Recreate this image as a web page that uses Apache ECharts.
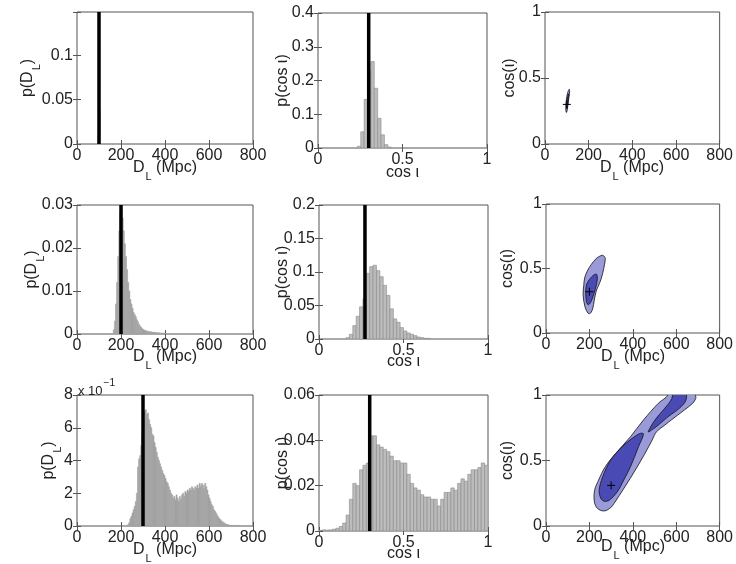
<!DOCTYPE html>
<html><head><meta charset="utf-8">
<script src="https://cdn.jsdelivr.net/npm/echarts@6/dist/echarts.min.js"></script>
<style>html,body{margin:0;padding:0;background:#fff}#c{width:736px;height:564px}</style>
</head><body><div id="c"></div>
<script>
// ---------------- data ----------------
const dlTickLabels = [0, 200, 400, 600, 800];
const cosTickLabels = [0, 0.5, 1];
const pDlTicks1 = [0, 0.05, 0.1];
const pDlTicks2 = [0, 0.01, 0.02, 0.03];
const pDlTicks3 = [0, 2, 4, 6, 8];
const pCosTicks1 = [0, 0.1, 0.2, 0.3, 0.4];
const pCosTicks2 = [0, 0.05, 0.1, 0.15, 0.2];
const pCosTicks3 = [0, 0.02, 0.04, 0.06];

const trueDL = [100, 200, 300];
const trueCos = [0.30, 0.272, 0.30];
const trueMarker = [[100, 0.30], [200, 0.32], [300, 0.31]];

// histograms of D_L (bin start, bin width, heights)
const dl1BinStart = 95, dl1BinWidth = 2;
const dl1Vals = [0.01, 0.06, 0.149, 0.11, 0.04];
const dl2BinStart = 165, dl2BinWidth = 5;
const dl2Vals = [0.001, 0.003, 0.007, 0.012, 0.018, 0.024, 0.028, 0.029, 0.027, 0.024,
  0.021, 0.018, 0.015, 0.012, 0.010, 0.008, 0.007, 0.006, 0.005, 0.0045,
  0.004, 0.0033, 0.0028, 0.0022, 0.0018, 0.0015, 0.0012, 0.001, 0.0009, 0.0008,
  0.0007, 0.0006, 0.0006, 0.0005, 0.0005, 0.0004, 0.0004, 0.0004, 0.0003, 0.0003,
  0.0003, 0.0003, 0.0002, 0.0002, 0.0002, 0.0002, 0.0002, 0.0001, 0.0001, 0.0001];
const dl3BinStart = 225, dl3BinWidth = 5;
const dl3Vals = [0.03, 0.08, 0.2, 0.45, 0.6, 0.8, 1.0, 1.2, 1.5, 2.0,
  3.6, 4.1, 4.3, 4.9, 5.6, 6.3, 7.0, 7.1, 6.8, 6.9,
  6.5, 6.2, 6.0, 5.6, 5.5, 5.1, 4.8, 4.5, 4.2, 4.0,
  3.8, 3.6, 3.4, 3.2, 3.1, 2.9, 2.7, 2.6, 2.4, 2.2,
  2.0, 1.9, 1.7, 1.8, 1.6, 1.9, 1.7, 1.5, 1.8, 1.6,
  1.9, 2.0, 1.8, 2.1, 2.0, 2.2, 2.1, 2.3, 2.2, 2.4,
  2.3, 2.2, 2.4, 2.3, 2.5, 2.3, 2.6, 2.4, 2.6, 2.5,
  2.3, 2.6, 2.4, 2.2, 1.9, 1.7, 1.5, 1.3, 1.2, 1.0,
  0.9, 0.8, 0.65, 0.55, 0.45, 0.38, 0.3, 0.25, 0.2, 0.16,
  0.12, 0.09, 0.07, 0.05, 0.04, 0.03, 0.02, 0.02, 0.015, 0.01, 0.01, 0.01, 0.005];

// histograms of cos(iota)
const cos1BinStart = 0.233, cos1BinWidth = 0.02;
const cos1Vals = [0.005, 0.048, 0.144, 0.23, 0.256, 0.177, 0.088, 0.039, 0.01, 0.003];
const cos2BinStart = 0.16, cos2BinWidth = 0.02;
const cos2Vals = [0.002, 0.007, 0.02, 0.034, 0.048, 0.06, 0.098, 0.108, 0.110, 0.102,
  0.093, 0.080, 0.065, 0.045, 0.030, 0.025, 0.017, 0.012, 0.009, 0.007,
  0.005, 0.003, 0.002, 0.001, 0.001];
const cos3BinStart = 0, cos3BinWidth = 0.02;
const cos3Vals = [0.0003, 0.0005, 0.0004, 0.0005, 0.0008, 0.0012, 0.002, 0.0035, 0.007, 0.014,
  0.021, 0.020, 0.027, 0.029, 0.030, 0.042, 0.042, 0.038, 0.037, 0.036,
  0.035, 0.033, 0.031, 0.031, 0.030, 0.030, 0.025, 0.021, 0.019, 0.018,
  0.016, 0.015, 0.015, 0.014, 0.014, 0.011, 0.014, 0.017, 0.017, 0.019,
  0.018, 0.021, 0.023, 0.022, 0.025, 0.027, 0.027, 0.028, 0.030, 0.029];

// credible-region contours [D_L, cos(iota)]
const contour1Outer = [[97,0.24],[95,0.27],[96,0.31],[100,0.36],[106,0.40],[111,0.415],[113,0.40],[110,0.36],[106,0.31],[102,0.26],[99,0.24]];
const contour1Inner = [[99,0.27],[99,0.30],[102,0.34],[107,0.38],[109,0.37],[106,0.33],[103,0.29],[101,0.27]];
const contour2Outer = [[193,0.155],[180,0.2],[171,0.297],[174,0.37],[178,0.426],[190,0.48],[208,0.53],[230,0.575],[246,0.594],[261,0.602],[272,0.585],[273,0.568],[266,0.50],[254,0.419],[240,0.36],[231,0.323],[222,0.25],[216,0.194],[208,0.16],[201,0.15]];
const contour2Inner = [[193,0.22],[186,0.245],[183,0.32],[186,0.37],[193,0.398],[205,0.425],[216,0.444],[231,0.457],[236,0.44],[236,0.411],[230,0.36],[224,0.32],[216,0.28],[208,0.245],[200,0.225]];
const contour3Outer = [[223,0.184],[238,0.133],[268,0.115],[298,0.140],[313,0.171],[363,0.298],[411,0.426],[456,0.554],[489,0.656],[509,0.719],[547,0.770],[577,0.809],[637,0.885],[675,0.936],[690,0.974],[688,1.0],[682,1.04],[554,1.04],[562,1.0],[517,0.936],[449,0.809],[389,0.681],[321,0.554],[273,0.452],[242,0.349],[224,0.273]];
const contour3InnerA = [[253,0.209],[245,0.273],[261,0.375],[298,0.503],[351,0.605],[396,0.668],[434,0.707],[449,0.702],[426,0.605],[389,0.452],[358,0.35],[328,0.26],[291,0.196],[268,0.189]];
const contour3InnerB = [[471,0.719],[502,0.809],[547,0.898],[580,0.974],[587,1.04],[640,1.04],[645,0.962],[614,0.898],[562,0.834],[517,0.77],[486,0.732]];

const xTitles = ['D{s|L} (Mpc)', 'cos ι', 'D{s|L} (Mpc)'];
const yTitles = ['p(D{s|L})', 'p(cos ι)', 'cos(ι)'];

// ---------------- layout / style ----------------
const FONT = 'Liberation Sans, Arial, Helvetica, sans-serif';
const TXT = '#222', FRAME = '#555';
const OUTER = '#9a9ad9', INNER = '#4a4ab5';
const HIST1 = '#a2a2a2', HIST2 = '#bcbcbc', HIST2_EDGE = '#8a8a8a';

// g: grid [left, top, width, height]; xt/yt: centre of the x / y title text
const panels = [
  {g:[77,12,176,132],  x:[0,800,200,dlTickLabels], y:[0,0.149,0.05,pDlTicks1], xt:[165,168],   yt:[27.5,78]},
  {g:[318,13,169,135], x:[0,1,0.5,cosTickLabels],  y:[0,0.4,0.1,pCosTicks1],   xt:[402.5,173], yt:[283,80.5]},
  {g:[545,12,177,132], x:[0,800,200,dlTickLabels], y:[0,1,0.5,cosTickLabels],   xt:[632,168],   yt:[510,78]},
  {g:[77,205,176,129], x:[0,800,200,dlTickLabels], y:[0,0.03,0.01,pDlTicks2],   xt:[165,357],   yt:[32,269.5]},
  {g:[319,205,169,134],x:[0,1,0.5,cosTickLabels],  y:[0,0.2,0.05,pCosTicks2],   xt:[403.5,362], yt:[283,272]},
  {g:[546,204,176,129],x:[0,800,200,dlTickLabels], y:[0,1,0.5,cosTickLabels],   xt:[633,357],   yt:[508,268.5]},
  {g:[77,395,176,131], x:[0,800,200,dlTickLabels], y:[0,8,2,pDlTicks3],         xt:[165,550],   yt:[48.5,460.5]},
  {g:[319,395,169,136],x:[0,1,0.5,cosTickLabels],  y:[0,0.06,0.02,pCosTicks3],  xt:[403.5,554], yt:[283,463]},
  {g:[546,395,177,131],x:[0,800,200,dlTickLabels], y:[0,1,0.5,cosTickLabels],   xt:[633,547],   yt:[508,460.5]}
];

const fmt = v => String(Math.round(v * 1e6) / 1e6);
const labelFn = ticks => v => ticks.some(t => Math.abs(t - v) < 1e-9) ? fmt(v) : '';
const subRich = {s: {fontFamily: FONT, fontSize: 11, fill: TXT, padding: [18, 0, 0, 1]}};

const grids = [], xAxes = [], yAxes = [], graphics = [];
panels.forEach((p, i) => {
  grids.push({left: p.g[0], top: p.g[1], width: p.g[2], height: p.g[3], show: true,
    borderColor: FRAME, borderWidth: 1, backgroundColor: '#fff', containLabel: false});
  const tick = {show: true, inside: true, length: 4, lineStyle: {color: FRAME, width: 1}};
  xAxes.push({type: 'value', gridIndex: i, position: 'bottom', min: p.x[0], max: p.x[1], interval: p.x[2],
    axisLine: {show: false}, axisTick: tick, splitLine: {show: false},
    axisLabel: {formatter: labelFn(p.x[3]), fontFamily: FONT, fontSize: 16, color: TXT, margin: 4}});
  xAxes.push({type: 'value', gridIndex: i, position: 'top', min: p.x[0], max: p.x[1], interval: p.x[2],
    axisLine: {show: false}, axisTick: tick, splitLine: {show: false}, axisLabel: {show: false}});
  yAxes.push({type: 'value', gridIndex: i, position: 'left', min: p.y[0], max: p.y[1], interval: p.y[2],
    axisLine: {show: false}, axisTick: tick, splitLine: {show: false},
    axisLabel: {formatter: labelFn(p.y[3]), fontFamily: FONT, fontSize: 16, color: TXT, margin: 4}});
  yAxes.push({type: 'value', gridIndex: i, position: 'right', min: p.y[0], max: p.y[1], interval: p.y[2],
    axisLine: {show: false}, axisTick: tick, splitLine: {show: false}, axisLabel: {show: false}});
  const col = i % 3;
  graphics.push({type: 'text', x: p.xt[0], y: p.xt[1], silent: true,
    style: {text: xTitles[col], align: 'center', verticalAlign: 'middle',
      fontFamily: FONT, fontSize: 16, fill: TXT, rich: subRich}});
  graphics.push({type: 'text', x: p.yt[0], y: p.yt[1], rotation: Math.PI / 2, silent: true,
    style: {text: yTitles[col], align: 'center', verticalAlign: 'middle',
      fontFamily: FONT, fontSize: 16, fill: TXT, rich: subRich}});
});
graphics.push({type: 'text', left: 78, top: 378, silent: true,
  style: {text: '{a|x 10}{b|−1}', rich: {
    a: {fontFamily: FONT, fontSize: 13, fill: TXT, padding: [8, 0, 0, 0]},
    b: {fontFamily: FONT, fontSize: 10, fill: TXT, padding: [0, 0, 8, 1]}}}});

function histSeries(i, start, width, vals, fill, stroke) {
  const data = vals.map((v, k) => [start + k * width, start + (k + 1) * width, v]);
  return {type: 'custom', xAxisIndex: 2 * i, yAxisIndex: 2 * i, clip: true, silent: true,
    encode: {x: [0, 1], y: 2}, data,
    renderItem(params, api) {
      const a = api.coord([api.value(0), api.value(2)]);
      const b = api.coord([api.value(1), 0]);
      return {type: 'rect', shape: {x: a[0], y: a[1], width: b[0] - a[0], height: b[1] - a[1]},
        style: {fill, stroke, lineWidth: 0.6}};
    }};
}
function truthLine(i, xv, ymax) {
  return {type: 'line', xAxisIndex: 2 * i, yAxisIndex: 2 * i, data: [[xv, 0], [xv, ymax]],
    symbol: 'none', silent: true, lineStyle: {color: '#000', width: 3.5}, z: 5};
}
function polySeries(i, pts, fill) {
  return {type: 'custom', xAxisIndex: 2 * i, yAxisIndex: 2 * i, clip: true, silent: true,
    encode: {x: 0, y: 1}, data: pts,
    renderItem(params, api) {
      if (params.dataIndex !== 0) return;
      return {type: 'polygon', shape: {points: pts.map(p => api.coord(p)), smooth: 0.35},
        style: {fill, stroke: '#111', lineWidth: 0.8}};
    }};
}
function markerSeries(i, pt) {
  return {type: 'custom', xAxisIndex: 2 * i, yAxisIndex: 2 * i, silent: true, z: 6,
    encode: {x: 0, y: 1}, data: [pt],
    renderItem(params, api) {
      const c = api.coord([api.value(0), api.value(1)]);
      return {type: 'group', children: [
        {type: 'line', shape: {x1: c[0] - 4, y1: c[1], x2: c[0] + 4, y2: c[1]}, style: {stroke: '#000', lineWidth: 1}},
        {type: 'line', shape: {x1: c[0], y1: c[1] - 4, x2: c[0], y2: c[1] + 4}, style: {stroke: '#000', lineWidth: 1}}
      ]};
    }};
}

const series = [
  histSeries(0, dl1BinStart, dl1BinWidth, dl1Vals, HIST1, HIST1),
  truthLine(0, trueDL[0], panels[0].y[1]),
  histSeries(1, cos1BinStart, cos1BinWidth, cos1Vals, HIST2, HIST2_EDGE),
  truthLine(1, trueCos[0], panels[1].y[1]),
  polySeries(2, contour1Outer, OUTER), polySeries(2, contour1Inner, INNER), markerSeries(2, trueMarker[0]),
  histSeries(3, dl2BinStart, dl2BinWidth, dl2Vals, HIST1, HIST1),
  truthLine(3, trueDL[1], panels[3].y[1]),
  histSeries(4, cos2BinStart, cos2BinWidth, cos2Vals, HIST2, HIST2_EDGE),
  truthLine(4, trueCos[1], panels[4].y[1]),
  polySeries(5, contour2Outer, OUTER), polySeries(5, contour2Inner, INNER), markerSeries(5, trueMarker[1]),
  histSeries(6, dl3BinStart, dl3BinWidth, dl3Vals, HIST1, HIST1),
  truthLine(6, trueDL[2], panels[6].y[1]),
  histSeries(7, cos3BinStart, cos3BinWidth, cos3Vals, HIST2, HIST2_EDGE),
  truthLine(7, trueCos[2], panels[7].y[1]),
  polySeries(8, contour3Outer, OUTER), polySeries(8, contour3InnerA, INNER), polySeries(8, contour3InnerB, INNER),
  markerSeries(8, trueMarker[2])
];

const chart = echarts.init(document.getElementById('c'), null, {renderer: 'canvas'});
chart.setOption({
  animation: false,
  backgroundColor: '#fff',
  grid: grids, xAxis: xAxes, yAxis: yAxes, series, graphic: graphics
});
</script></body></html>
